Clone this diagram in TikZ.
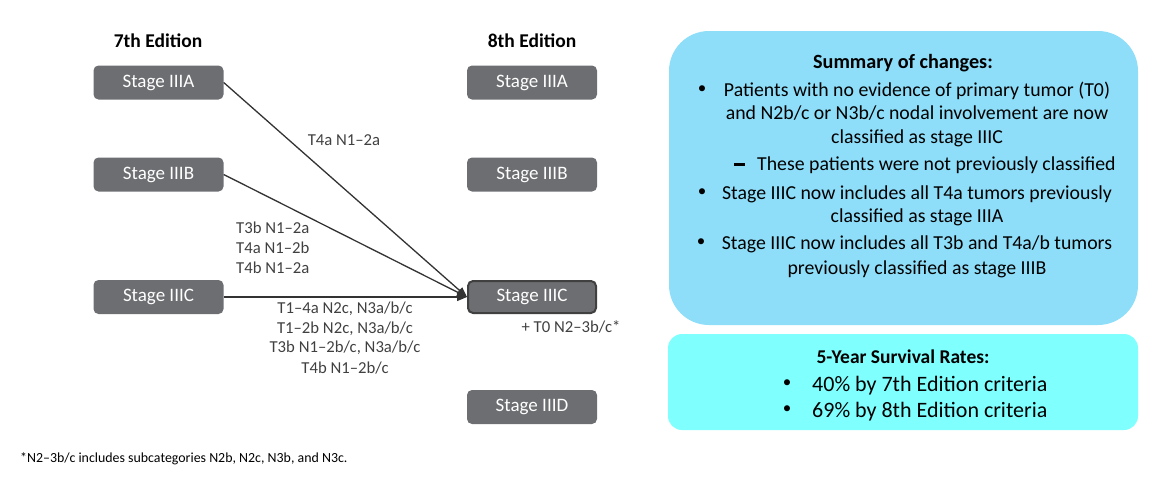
\documentclass[tikz,border=0pt]{standalone}
\usepackage{fontspec}
\setmainfont{Carlito}
\usetikzlibrary{arrows.meta}
\definecolor{stagegray}{HTML}{6D6E71}
\definecolor{sumblue}{HTML}{8EDEF9}
\definecolor{survcyan}{HTML}{80FFFF}
\definecolor{lbltext}{HTML}{404040}
\begin{document}
\begin{tikzpicture}[x=1pt,y=-1pt,
  stagebox/.style={fill=stagegray, rounded corners=5pt, minimum width=130pt, minimum height=34pt, text=white, font=\fontsize{19}{22}\selectfont, inner sep=0pt},
  conn/.style={draw=black!80, line width=1.3pt, -{Triangle[length=10pt,width=8pt]}},
  lbl/.style={font=\fontsize{16.7}{20}\selectfont, text=lbltext, inner sep=0pt},
  heading/.style={font=\bfseries\fontsize{19.5}{22}\selectfont, inner sep=0pt},
  sumtxt/.style={font=\fontsize{19.8}{23.5}\selectfont, inner sep=0pt, anchor=base},
  survtxt/.style={font=\fontsize{22}{25}\selectfont, inner sep=0pt, anchor=base west},
  bul/.style={font=\fontsize{17}{20}\selectfont, inner sep=0pt},
  dashmark/.style={fill=black, minimum width=11pt, minimum height=2.4pt, inner sep=0pt}]
\useasboundingbox (0,0) rectangle (1168,485);
% headings
\node[heading] (h7) at (158,41) {7th Edition};
\node[heading] (h8) at (532,41) {8th Edition};
% stage boxes
\node[stagebox] (l1) at (158.5,82.5) {Stage IIIA};
\node[stagebox] (l2) at (158.5,174.5) {Stage IIIB};
\node[stagebox] (l3) at (158.5,297) {Stage IIIC};
\node[stagebox] (r1) at (532,82.5) {Stage IIIA};
\node[stagebox] (r2) at (532,174.5) {Stage IIIB};
\node[stagebox, draw=black!75, line width=2pt, minimum width=128pt, minimum height=32pt] (r3) at (532,297) {Stage IIIC};
\node[stagebox] (r4) at (532,407) {Stage IIID};
% connectors
\draw[conn] (l1.east) -- (r3.west);
\draw[conn] (l2.east) -- (r3.west);
\draw[conn] (l3.east) -- (r3.west);
% labels
\node[lbl] (la) at (344,140) {T4a N1--2a};
\node[lbl, anchor=west] (lb1) at (236,228) {T3b N1--2a};
\node[lbl, anchor=west] (lb2) at (236,248) {T4a N1--2b};
\node[lbl, anchor=west] (lb3) at (236,268) {T4b N1--2a};
\node[lbl] (lc1) at (345,309) {T1--4a N2c, N3a/b/c};
\node[lbl] (lc2) at (345,329) {T1--2b N2c, N3a/b/c};
\node[lbl] (lc3) at (345,348) {T3b N1--2b/c, N3a/b/c};
\node[lbl] (lc4) at (345,368) {T4b N1--2b/c};
\node[lbl] (t0) at (571,327) {+ T0 N2--3b/c*};
% summary box
\node[fill=sumblue, rounded corners=40pt, minimum width=469pt, minimum height=294pt, inner sep=0pt] (sum) at (903.5,178) {};
\node[heading, font=\bfseries\fontsize{20.2}{24}\selectfont, anchor=base] (sumt) at (903,68.5) {Summary of changes:};
\node[bul] (b1) at (702,90) {\textbullet};
\node[sumtxt] (s1a) at (917,96) {Patients with no evidence of primary tumor (T0)};
\node[sumtxt] (s1b) at (917,119.5) {and N2b/c or N3b/c nodal involvement are now};
\node[sumtxt] (s1c) at (917,143) {classified as stage IIIC};
\node[dashmark] (d1) at (739.5,164.5) {};
\node[sumtxt, anchor=base west] (s2) at (757,170) {These patients were not previously classified};
\node[bul] (b2) at (702,193) {\textbullet};
\node[sumtxt] (s3a) at (917,199) {Stage IIIC now includes all T4a tumors previously};
\node[sumtxt] (s3b) at (917,222.5) {classified as stage IIIA};
\node[bul] (b3) at (701,243) {\textbullet};
\node[sumtxt] (s4a) at (917,249.5) {Stage IIIC now includes all T3b and T4a/b tumors};
\node[sumtxt] (s4b) at (917,274) {previously classified as stage IIIB};
% survival box
\node[fill=survcyan, rounded corners=14pt, minimum width=470pt, minimum height=96pt, inner sep=0pt] (surv) at (903,382) {};
\node[heading, anchor=base] (survt) at (903,363) {5-Year Survival Rates:};
\node[bul] (b4) at (787,384) {\textbullet};
\node[survtxt] (v1) at (812,391) {40\% by 7th Edition criteria};
\node[bul] (b5) at (787,410) {\textbullet};
\node[survtxt] (v2) at (812,417) {69\% by 8th Edition criteria};
% footnote
\node[font=\fontsize{13.9}{16}\selectfont, anchor=west, inner sep=0pt] (fn) at (20,459) {*N2--3b/c includes subcategories N2b, N2c, N3b, and N3c.};
\end{tikzpicture}
\end{document}
